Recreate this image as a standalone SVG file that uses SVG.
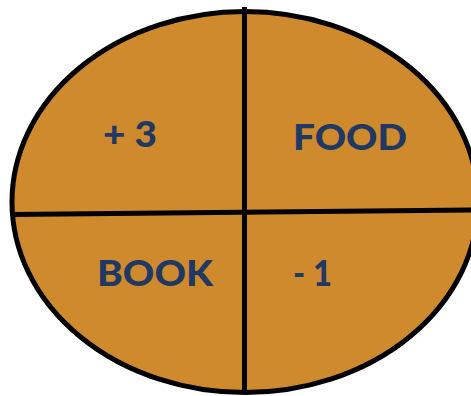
<svg xmlns="http://www.w3.org/2000/svg" width="471" height="396" viewBox="0 0 471 396">
<style>
.lbl{font-family:"Lato","Open Sans","Liberation Sans",sans-serif;font-weight:900;font-size:36px;fill:#1F3864}
.ln{stroke:#000;stroke-width:5;fill:none}
</style>
<rect width="471" height="396" fill="#fff"/>
<g id="disc">
<ellipse cx="245" cy="202" rx="233" ry="190.5" fill="#CE8A2C" stroke="#000" stroke-width="5"/>
</g>
<g id="connectors">
<line class="ln" x1="244.5" y1="7" x2="244.5" y2="391"/>
<line class="ln" x1="11" y1="214.5" x2="471" y2="210"/>
</g>
<g id="q1"><text class="lbl" x="103" y="147" textLength="54" lengthAdjust="spacingAndGlyphs">+ 3</text></g>
<g id="q2"><text class="lbl" x="293" y="150" textLength="114" lengthAdjust="spacingAndGlyphs">FOOD</text></g>
<g id="q3"><text class="lbl" x="97" y="286" textLength="116" lengthAdjust="spacingAndGlyphs">BOOK</text></g>
<g id="q4"><text class="lbl" x="293" y="286" textLength="39" lengthAdjust="spacingAndGlyphs">- 1</text></g>
</svg>
